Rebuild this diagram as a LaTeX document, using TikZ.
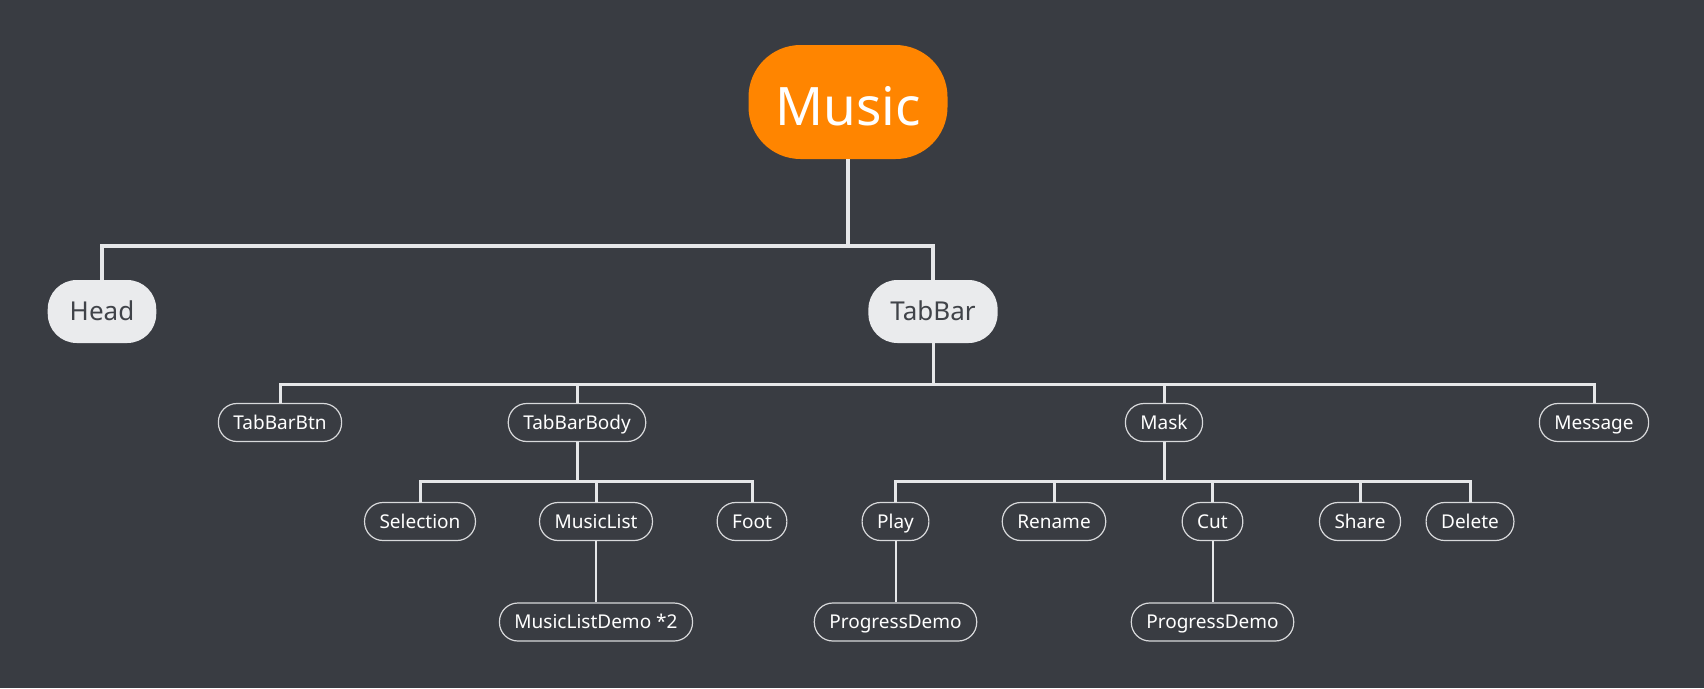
\documentclass[tikz,border=0pt]{standalone}
\usepackage{fontspec}
\setmainfont{Noto Sans}
\definecolor{bg}{HTML}{393C42}
\definecolor{orng}{HTML}{FF8500}
\definecolor{lightnode}{HTML}{EAEBED}
\definecolor{darktext}{HTML}{404349}
\definecolor{wire}{HTML}{E6E7E9}
\definecolor{outline}{HTML}{D8D9DB}
\tikzset{
  rootnode/.style={fill=orng, rounded corners=52pt, minimum height=114pt, minimum width=199pt, inner xsep=26pt, inner ysep=0pt,
    text height=57pt, text depth=10pt,
    text=white, font=\fontsize{53}{53}\selectfont},
  topnode/.style={fill=lightnode, rounded corners=29pt, minimum height=63pt, inner xsep=22pt, inner ysep=0pt,
    text height=24.6pt, text depth=6pt,
    text=darktext, font=\fontsize{26}{26}\selectfont},
  leafnode/.style={draw=outline, line width=1.2pt, fill=bg, rounded corners=18.5pt, minimum height=38pt,
    inner xsep=15pt, inner ysep=0pt, text height=17.6pt, text depth=4pt,
    text=white, font=\fontsize{19}{19}\selectfont},
  wireA/.style={draw=wire, line width=4pt, line join=miter},
  wireB/.style={draw=wire, line width=3pt, line join=miter},
  wireC/.style={draw=wire, line width=2pt},
}
\begin{document}
\begin{tikzpicture}[x=1pt,y=-1pt]
\useasboundingbox (0,0) rectangle (1704,688);
\fill[bg] (0,0) rectangle (1704,688);
% buses
\coordinate (b1) at (0,246);
\coordinate (b2) at (0,384);
\coordinate (b3) at (0,481);
% nodes
\node[rootnode] (music) at (848,102) {Music};
\node[topnode] (head) at (102,311.5) {Head};
\node[topnode] (tabbar) at (933,311.5) {TabBar};
\node[leafnode] (tbbtn) at (280,422.5) {TabBarBtn};
\node[leafnode] (tbbody) at (577,422.5) {TabBarBody};
\node[leafnode] (mask) at (1164,422.5) {Mask};
\node[leafnode] (message) at (1594,422.5) {Message};
\node[leafnode] (selection) at (420,521.5) {Selection};
\node[leafnode] (musiclist) at (596,521.5) {MusicList};
\node[leafnode] (foot) at (752,521.5) {Foot};
\node[leafnode] (play) at (895.5,521.5) {Play};
\node[leafnode] (rename) at (1054,521.5) {Rename};
\node[leafnode] (cut) at (1212.5,521.5) {Cut};
\node[leafnode] (share) at (1360,521.5) {Share};
\node[leafnode] (delete) at (1470,521.5) {Delete};
\node[leafnode] (mld) at (596,622) {MusicListDemo *2};
\node[leafnode] (pd1) at (895.5,622) {ProgressDemo};
\node[leafnode] (pd2) at (1212.5,622) {ProgressDemo};
% level 1
\draw[wireA] (music.south) -- (music.south |- b1);
\draw[wireA] (head.north) |- (tabbar.north |- b1) -- (tabbar.north);
% level 2
\draw[wireB] (tabbar.south) -- (tabbar.south |- b2);
\draw[wireB] (tbbtn.north) |- (message.north |- b2) -- (message.north);
\draw[wireB] (tbbody.north) -- (tbbody.north |- b2);
\draw[wireB] (mask.north) -- (mask.north |- b2);
% level 3
\draw[wireB] (tbbody.south) -- (tbbody.south |- b3);
\draw[wireB] (selection.north) |- (foot.north |- b3) -- (foot.north);
\draw[wireB] (musiclist.north) -- (musiclist.north |- b3);
\draw[wireB] (mask.south) -- (mask.south |- b3);
\draw[wireB] (play.north) |- (delete.north |- b3) -- (delete.north);
\draw[wireB] (rename.north) -- (rename.north |- b3);
\draw[wireB] (cut.north) -- (cut.north |- b3);
\draw[wireB] (share.north) -- (share.north |- b3);
% level 4
\draw[wireC] (musiclist.south) -- (mld.north);
\draw[wireC] (play.south) -- (pd1.north);
\draw[wireC] (cut.south) -- (pd2.north);
\end{tikzpicture}
\end{document}
